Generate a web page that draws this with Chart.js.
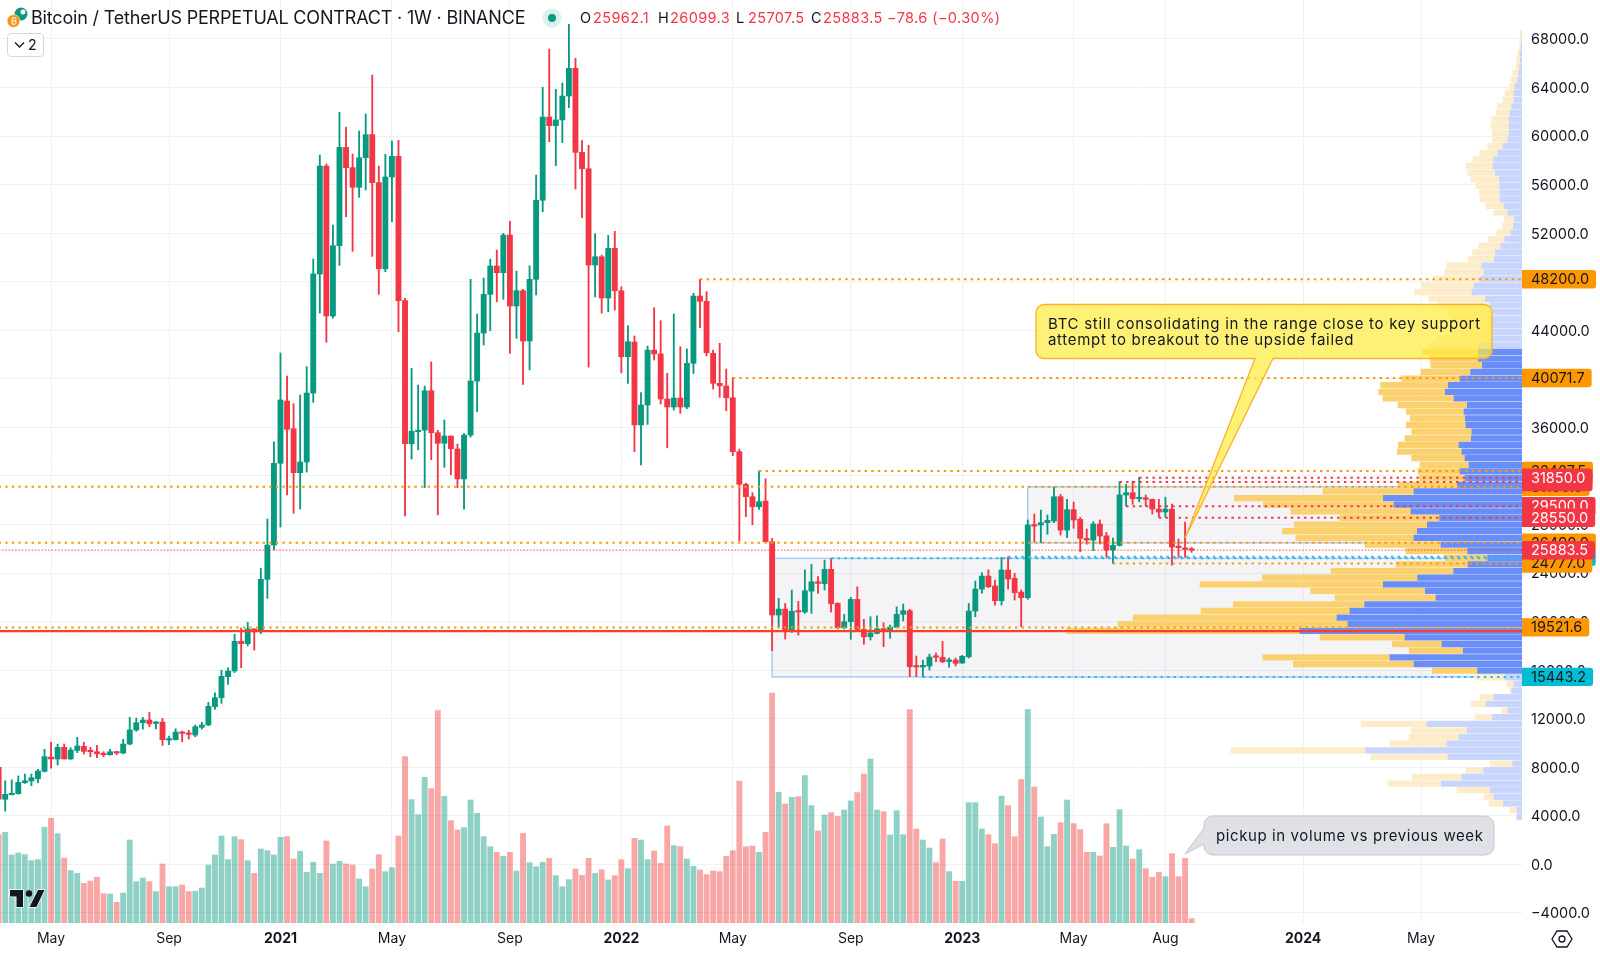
<!DOCTYPE html>
<html>
<head>
<meta charset="utf-8">
<title>BTCUSDT.P 1W</title>
<script src="https://cdn.jsdelivr.net/npm/chart.js@4"></script>
<style>
  html, body { margin: 0; padding: 0; background: #fff; overflow: hidden; }
  #wrap { position: relative; width: 1600px; height: 953px; font-family: Inter, "Noto Sans", sans-serif; color: #131722; }
  #chart { position: absolute; left: 0; top: 0; }
  .t { position: absolute; white-space: nowrap; line-height: 20px; }
  #title { left: 31px; top: 8px; font-size: 18px; letter-spacing: -0.18px; }
  .ohlc { top: 8px; font-size: 14.5px; letter-spacing: 0.4px; }
  .red { color: #f23645; }
  #btn { position: absolute; left: 7px; top: 33px; width: 35px; height: 22px; border: 1px solid #d6d8de; border-radius: 4px; background: #fff; }
  #btn span { position: absolute; left: 20px; top: 1px; font-size: 14px; line-height: 20px; }
  svg { position: absolute; }
</style>
</head>
<body>
<div id="wrap">
  <canvas id="chart" width="1600" height="953"></canvas>

  <svg style="left:6px;top:6px" width="24" height="24" viewBox="0 0 24 24">
    <circle cx="15" cy="8" r="6.5" fill="#089981"/>
    <circle cx="17" cy="6" r="2.5" fill="#fff"/>
    <circle cx="7.5" cy="15" r="6.5" fill="#f7931a" stroke="#fff" stroke-width="0.6"/>
    <path d="M6.2 11.8v6.4M6.2 11.8h2.2a1.5 1.5 0 0 1 0 3.2H6.2m2.4 0a1.6 1.6 0 0 1 0 3.2H6.2" fill="none" stroke="#fff" stroke-width="1"/>
  </svg>
  <div class="t" id="title">Bitcoin / TetherUS PERPETUAL CONTRACT · 1W · BINANCE</div>
  <svg style="left:542px;top:8px" width="20" height="20"><circle cx="10" cy="10" r="9.5" fill="#daf0ec"/><circle cx="10" cy="10" r="4" fill="#089981"/></svg>
  <div class="t ohlc" style="left:580px">O</div><div class="t ohlc red" style="left:593px">25962.1</div>
  <div class="t ohlc" style="left:658px">H</div><div class="t ohlc red" style="left:670px">26099.3</div>
  <div class="t ohlc" style="left:736px">L</div><div class="t ohlc red" style="left:748px">25707.5</div>
  <div class="t ohlc" style="left:811px">C</div><div class="t ohlc red" style="left:823px">25883.5</div>
  <div class="t ohlc red" style="left:887px">−78.6 (−0.30%)</div>

  <div id="btn">
    <svg style="left:6px;top:7px" width="11" height="8" viewBox="0 0 11 8"><path d="M1 1.5l4.5 4.5L10 1.5" fill="none" stroke="#131722" stroke-width="1.3"/></svg>
    <span>2</span>
  </div>

  <svg style="left:8px;top:888px" width="38" height="22" viewBox="0 0 38 22">
    <path d="M2 2h13v17h-6.5v-10.500H2z M30 2h6.500l-8 17h-7z" fill="#131722" stroke="#fff" stroke-width="1.4" paint-order="stroke"/>
    <circle cx="21" cy="5.500" r="3.200" fill="#131722"/>
  </svg>

  <svg style="left:1550px;top:928px" width="24" height="22" viewBox="0 0 24 22">
    <path d="M7 3h10l5 8-5 8H7l-5-8z" fill="none" stroke="#131722" stroke-width="1.300"/>
    <circle cx="12" cy="11" r="3" fill="none" stroke="#131722" stroke-width="1.300"/>
  </svg>
</div>

<script>
// first candle is 43 weeks before the first week of 2021, weeks are counted from there
const firstWeek = -43;

const opens = [
  7990,5360,5730,5820,6720,6860,7050,7660,8840,8680,
  9640,8680,9390,9720,9390,9280,9110,9030,9280,9170,
  9910,11070,11670,11890,11610,11720,10240,10270,10900,10790,
  10650,11290,11480,13000,13730,15460,15930,18380,18180,19390,
  19160,23480,26308,
  33040,38170,35890,32270,33150,38830,48640,57530,45180,50970,
  59070,57400,55780,58220,60120,56160,49070,56630,58330,46440,
  34650,35640,35770,39020,35560,34690,35290,34220,31750,35370,
  39820,43770,46960,49300,48740,51850,46000,47260,43120,48200,
  54710,61570,60860,61330,63300,65580,58660,57310,49380,50060,
  46660,50750,47260,41820,43030,36200,37840,42370,42050,38340,
  37680,38420,37680,41280,46820,46390,42100,39630,39410,38440,
  34000,31310,30290,29460,29930,26580,20540,21030,19250,20870,
  20790,22510,23280,23120,24310,21500,19490,19990,21830,19360,
  18750,19030,19410,19280,19530,20600,20900,16300,16260,16340,
  17140,17060,16720,16830,16590,17100,20870,22680,23750,22930,
  21720,24250,23560,22430,21970,27980,27960,28150,28280,30290,
  27540,29220,28430,26860,26720,28040,27070,25900,26280,30430,
  30620,30120,30200,30070,29270,29030,29270,26170,26060,25962.1
];
const highs = [
  8100,6890,6950,7280,7440,7440,7830,9480,10080,9910,
  9910,9610,10460,10050,9640,9800,9280,9480,9300,10300,
  12110,12050,12110,12520,11760,12030,10570,11170,10980,11040,
  11480,11700,13350,14140,16000,16200,18960,19470,19940,19420,
  24390,28450,34820,
  42130,40230,37950,38670,41000,49870,58440,57700,52670,61960,
  60750,58520,60420,61820,65030,57530,58500,59600,59650,46630,
  40870,39490,39410,41390,35760,36610,35290,34630,35500,48200,
  45340,48310,49850,50610,51990,52980,48880,47380,49320,56790,
  64020,67170,63850,64370,69210,66410,59620,59240,51960,50200,
  51820,52150,47590,44380,43530,38860,42700,45860,44790,40450,
  45340,42650,42460,47050,48200,47180,42370,42930,40810,40090,
  34220,31400,30620,32430,31770,26860,21920,21500,22600,21670,
  24270,24720,23700,25070,25210,21550,20600,22000,22870,20190,
  20400,20480,19900,19720,21220,21450,21010,17160,16830,17330,
  17410,18370,17000,17000,17220,21500,23340,24030,24270,23420,
  25290,25340,23980,22600,28370,28860,29190,28780,31090,30480,
  30070,29850,28590,27630,28230,28370,27350,26880,31520,31310,
  31580,31890,30430,30100,30070,30240,29690,26800,28200,26099.3
];
const lows = [
  5250,4390,5730,5780,6670,6480,6720,7610,7930,8180,
  8680,8650,9200,9090,8870,8780,8870,9000,9030,9110,
  9850,10960,11150,11340,11150,9800,9850,10240,10100,10320,
  10510,11150,11430,12770,13270,14830,15800,16200,18000,17650,
  19000,21915,25900,
  27790,30430,28920,29270,32320,38060,45420,43010,45000,49350,
  53360,50500,54950,55560,50090,46960,48830,52950,43880,28700,
  33390,34160,31030,33340,28800,32710,32100,31030,29270,35200,
  37290,42790,43960,46350,46550,42100,43340,39550,40730,46910,
  53770,59540,57560,59460,62340,55640,53270,40970,46740,45420,
  45530,45670,40500,39630,34000,32900,36250,41550,37930,34320,
  37430,37160,37540,40450,44210,41880,39160,38480,37370,33670,
  26640,28640,27980,29250,26580,17600,19580,18560,19110,18890,
  20680,20680,22330,22600,20790,19400,19400,18540,19300,18130,
  18480,18990,17930,18620,19500,20050,15460,15460,15460,16010,
  16690,16610,16230,16340,16550,17000,20400,22330,22800,21360,
  21360,22680,21780,19580,21830,26580,26500,27190,28150,27130,
  26910,27680,25760,26370,25840,26390,25300,24800,26220,29520,
  29660,29870,29520,28860,28590,28590,24640,25300,25300,25707.5
];
const closes = [
  5360,5770,5850,6760,6890,7140,7690,8870,8680,9640,
  8680,9420,9750,9310,9280,9110,9030,9280,9170,9910,
  11070,11670,11890,11580,11720,10270,10320,10900,10790,10710,
  11340,11480,13020,13730,15490,15930,18380,18180,19390,19160,
  23480,26308,33040,
  38260,35840,32270,33150,38830,48640,57530,45180,50970,59070,
  57400,55780,58220,60120,56160,49070,56630,58330,46440,34650,
  35680,35770,39020,35560,34690,35290,34240,31750,35370,39820,
  43770,46960,49300,48740,51850,46000,47260,43120,48200,54710,
  61570,60860,61330,63300,65580,58660,57310,49380,50060,46660,
  50750,47260,41820,43060,36200,37840,42370,42050,38340,37680,
  38420,37680,41280,46820,46390,42150,39630,39430,38440,34000,
  31310,30290,29460,29880,26580,20540,21030,19250,20850,20790,
  22540,23280,23150,24310,21470,19490,19990,21830,19360,18750,
  19060,19410,19300,19550,20600,20900,16280,16260,16400,17080,
  17060,16690,16830,16560,17140,20870,22680,23750,22870,21720,
  24250,23510,22380,21970,27960,27870,28150,28340,30290,27540,
  29220,28370,26860,26720,28040,27050,25900,26280,30430,30620,
  30120,30200,30070,29270,29030,29270,26140,26090,25950,25883.5
];
// no scale on the picture for volume, these are relative heights
const volumes = [
  265,272,204,210,205,187,190,287,314,268,195,157,149,119,126,137,88,87,62,90,
  249,124,135,124,94,177,109,109,114,94,95,105,174,204,261,190,259,250,187,149,
  222,217,204,257,259,192,215,152,182,149,246,177,185,177,174,132,109,162,205,154,
  166,261,499,370,325,437,403,637,380,307,279,286,369,329,259,229,212,200,212,156,
  269,181,169,182,194,142,109,130,162,143,194,149,
  160,129,142,190,163,254,249,190,216,179,291,232,229,192,170,159,145,156,154,200,
  217,426,229,231,212,272,690,392,357,377,379,442,352,276,324,331,320,339,366,391,
  447,492,339,334,264,337,265,640,282,249,225,181,252,154,125,125,361,361,282,265,
  238,381,352,259,430,641,408,318,229,266,301,369,298,280,212,212,201,298,227,340,
  231,192,220,163,137,152,139,208,139,194,13
];

// volume profile, rows from the top down, relative lengths
const profileBuy = [
  0,1,3,6,5,7,10,13,21,24,24,31,36,39,39,39,43,57,72,85,
  88,80,68,67,66,66,54,43,23,26,33,51,63,80,83,121,114,126,144,150,
  110,96,88,94,91,88,96,131,131,131,119,154,186,221,230,204,164,174,170,168,
  150,152,189,180,171,159,186,171,194,324,416,384,333,247,284,314,324,243,163,103,
  162,205,313,416,290,258,472,516,555,522,666,351,240,176,396,324,133,51,25,31,
  85,107,42,89,285,164,189,225,469,222,28,115,180,242,96,84,56,15,15
];
const profileSell = [
  5,5,5,7,10,11,18,20,17,27,33,43,41,52,54,50,45,46,55,62,
  79,83,85,71,62,60,54,41,30,33,43,51,66,68,79,105,117,140,157,172,
  169,154,131,117,100,123,158,150,165,145,155,149,175,203,200,213,208,173,165,179,
  181,199,182,194,160,147,126,137,177,273,447,392,361,299,399,404,355,228,185,128,
  216,368,466,550,344,303,394,447,612,690,700,255,149,162,382,362,136,90,21,5,
  41,46,18,51,197,168,150,171,404,232,67,53,150,160,99,30,43,20,0
];
// rows sit on a fixed price grid
const profileTopPrice = 68470;
const profileRowStep = 547;
const valueAreaHigh = 42300;
const valueAreaLow = 15700;

const orangeLevels = [48200, 40071.7, 32407.5, 31100, 26490, 24777, 19521.6];
const orangeStarts = [64, 69, 73, -43, -43, 127, -43];
const redLevels = [31850, 31500, 29500, 28550];
const redStarts = [131, 128, 129, 134];
const cyanLevels = [25210, 25340, 15443.2];
const cyanStarts = [84, 111, 98];
const lastPrice = 25883.5;
const supportLine = 19220;

const tickWeeks = [-35, -17, 0, 17, 35, 52, 69, 87, 104, 121, 135, 156, 174];
const tickNames = ['May', 'Sep', '2021', 'May', 'Sep', '2022', 'May', 'Sep', '2023', 'May', 'Aug', '2024', 'May'];
const priceTicks = [-4000, 0, 4000, 8000, 12000, 16000, 20000, 24000, 28000, 32000, 36000, 40000, 44000, 48000, 52000, 56000, 60000, 64000, 68000];

const GREEN = '#089981';
const RED = '#f23645';
const ORANGE = '#ff9800';
const CYAN = '#00bcd4';
const FONT = 'Inter, "Noto Sans", sans-serif';

const weeks = opens.map((_, i) => firstWeek + i);
const candleColors = opens.map((o, i) => closes[i] >= o ? GREEN : RED);
const volumeColors = opens.map((o, i) => closes[i] >= o ? 'rgba(8,153,129,0.45)' : 'rgba(240,57,57,0.45)');
const rowPrices = profileBuy.map((_, i) => profileTopPrice - i * profileRowStep);
const inValueArea = p => p <= valueAreaHigh && p >= valueAreaLow;

function levelLine(price, start, color, dash, width) {
  return {
    type: 'line',
    data: [{ x: start, y: price }, { x: 190, y: price }],
    borderColor: color,
    borderWidth: width,
    borderDash: dash,
    pointRadius: 0,
    order: 10
  };
}

const DOTS = [2.4, 4.2];
const datasets = [
  {
    data: weeks.map((w, i) => ({ x: w, y: volumes[i] })),
    yAxisID: 'yVol',
    backgroundColor: volumeColors,
    barThickness: 5.2,
    grouped: false,
    order: 100
  },
  {
    indexAxis: 'y',
    xAxisID: 'xProfile',
    data: rowPrices.map((p, i) => ({ x: [0, profileBuy[i]], y: p })),
    backgroundColor: rowPrices.map(p => inValueArea(p) ? '#6a8ef8' : '#c8d5fd'),
    barThickness: 5.6,
    grouped: false,
    order: 90
  },
  {
    indexAxis: 'y',
    xAxisID: 'xProfile',
    data: rowPrices.map((p, i) => ({ x: [profileBuy[i], profileBuy[i] + profileSell[i]], y: p })),
    backgroundColor: rowPrices.map(p => inValueArea(p) ? '#fbd16f' : '#fdecc9'),
    barThickness: 5.6,
    grouped: false,
    order: 90
  },
  {
    data: weeks.map((w, i) => ({ x: w, y: [lows[i], highs[i]] })),
    backgroundColor: candleColors,
    barThickness: 1.2,
    grouped: false,
    order: 50
  },
  {
    data: weeks.map((w, i) => ({ x: w, y: [opens[i], closes[i]] })),
    backgroundColor: candleColors,
    barThickness: 5.2,
    minBarLength: 1.5,
    grouped: false,
    order: 40
  },
  levelLine(lastPrice, -43, 'rgba(242,54,69,0.7)', [1.6, 1.7], 1.2),
  ...orangeLevels.map((p, i) => levelLine(p, orangeStarts[i], ORANGE, DOTS, 2)),
  ...redLevels.map((p, i) => levelLine(p, redStarts[i], RED, DOTS, 2)),
  ...cyanLevels.map((p, i) => levelLine(p, cyanStarts[i], '#35b5e8', DOTS, 2)),
  levelLine(supportLine, -43, '#f4402c', [], 2.2)
];

function priceLabel(ctx, chart, price, fill, textColor) {
  const y = chart.scales.y.getPixelForValue(price);
  const text = price.toFixed(1);
  ctx.font = '14.5px ' + FONT;
  ctx.letterSpacing = '0px';
  const w = ctx.measureText(text).width;
  ctx.fillStyle = fill;
  ctx.beginPath();
  ctx.roundRect(chart.chartArea.right, y - 9.2, w + 16, 18.4, [0, 3, 3, 0]);
  ctx.fill();
  ctx.fillStyle = textColor;
  ctx.textAlign = 'left';
  ctx.textBaseline = 'middle';
  ctx.fillText(text, chart.chartArea.right + 9, y + 0.5);
}

function rangeBox(ctx, chart, week, top, bottom) {
  const x = chart.scales.x.getPixelForValue(week);
  const yTop = chart.scales.y.getPixelForValue(top);
  const yBottom = chart.scales.y.getPixelForValue(bottom);
  const right = chart.chartArea.right;
  ctx.fillStyle = 'rgba(130,133,170,0.09)';
  ctx.fillRect(x, yTop, right - x, yBottom - yTop);
  ctx.strokeStyle = '#a9ccf9';
  ctx.lineWidth = 1.5;
  ctx.strokeRect(x, yTop, right - x + 4, yBottom - yTop);
}

const chrome = {
  id: 'chrome',
  beforeDatasetsDraw(chart) {
    const ctx = chart.ctx;
    ctx.save();
    ctx.beginPath();
    ctx.rect(chart.chartArea.left, chart.chartArea.top, chart.chartArea.width, chart.chartArea.height);
    ctx.clip();
    rangeBox(ctx, chart, 75, 25210, 15443.2);
    rangeBox(ctx, chart, 114, 31100, 26490);
    ctx.restore();
  },
  afterDraw(chart) {
    const ctx = chart.ctx;
    const { x, y, yVol } = chart.scales;
    ctx.save();

    // price tags, the red ones sit on top
    cyanLevels.forEach(p => priceLabel(ctx, chart, p, CYAN, '#131722'));
    orangeLevels.forEach(p => priceLabel(ctx, chart, p, ORANGE, '#131722'));
    priceLabel(ctx, chart, 31500, RED, RED);
    priceLabel(ctx, chart, 31850, RED, '#fff');
    priceLabel(ctx, chart, 29500, RED, '#fff');
    priceLabel(ctx, chart, 28550, RED, '#fff');
    priceLabel(ctx, chart, lastPrice, RED, '#fff');

    // yellow balloon
    const tipX = x.getPixelForValue(138);
    const tipY = y.getPixelForValue(26880);
    ctx.beginPath();
    ctx.moveTo(1044, 304.5);
    ctx.lineTo(1484, 304.5);
    ctx.arcTo(1492, 304.5, 1492, 312, 8);
    ctx.lineTo(1492, 351);
    ctx.arcTo(1492, 358.5, 1484, 358.5, 8);
    ctx.lineTo(1273, 358.5);
    ctx.lineTo(tipX, tipY);
    ctx.lineTo(1255, 358.5);
    ctx.lineTo(1044, 358.5);
    ctx.arcTo(1036, 358.5, 1036, 351, 8);
    ctx.lineTo(1036, 312);
    ctx.arcTo(1036, 304.5, 1044, 304.5, 8);
    ctx.closePath();
    ctx.fillStyle = 'rgba(255,235,59,0.7)';
    ctx.fill();
    ctx.strokeStyle = '#fbb02d';
    ctx.lineWidth = 1.3;
    ctx.stroke();
    ctx.fillStyle = '#131722';
    ctx.font = '15px ' + FONT;
    ctx.letterSpacing = '0.7px';
    ctx.textAlign = 'left';
    ctx.textBaseline = 'middle';
    ctx.fillText('BTC still consolidating in the range close to key support', 1048, 324);
    ctx.fillText('attempt to breakout to the upside failed', 1048, 340);

    // grey balloon
    const gx = x.getPixelForValue(138);
    const gy = yVol.getPixelForValue(207);
    ctx.beginPath();
    ctx.moveTo(1214, 816);
    ctx.lineTo(1485, 816);
    ctx.arcTo(1494, 816, 1494, 825, 9);
    ctx.lineTo(1494, 846);
    ctx.arcTo(1494, 855, 1485, 855, 9);
    ctx.lineTo(1214, 855);
    ctx.arcTo(1204, 855, 1204, 846, 9);
    ctx.lineTo(1204, 844);
    ctx.lineTo(gx, gy);
    ctx.lineTo(1204, 828);
    ctx.arcTo(1204, 816, 1214, 816, 9);
    ctx.closePath();
    ctx.fillStyle = '#dfe1e6';
    ctx.fill();
    ctx.strokeStyle = '#c3c6ce';
    ctx.lineWidth = 1;
    ctx.stroke();
    ctx.fillStyle = '#131722';
    ctx.letterSpacing = '0.6px';
    ctx.fillText('pickup in volume vs previous week', 1216, 836);

    ctx.restore();
  }
};

new Chart(document.getElementById('chart').getContext('2d'), {
  type: 'bar',
  data: { datasets },
  plugins: [chrome],
  options: {
    responsive: false,
    animation: false,
    events: [],
    layout: { padding: 0 },
    plugins: { legend: { display: false }, tooltip: { enabled: false } },
    scales: {
      x: {
        type: 'linear',
        offset: false,
        min: -42.79,
        max: 189.4,
        afterBuildTicks: s => { s.ticks = tickWeeks.map(value => ({ value })); },
        afterFit: s => { s.height = 30; s.paddingLeft = 0; s.paddingRight = 0; },
        grid: { color: '#f0f1f4', drawTicks: false, offset: false },
        border: { display: false },
        ticks: {
          autoSkip: false,
          maxRotation: 0,
          padding: 7,
          color: '#131722',
          font: c => ({ family: FONT, size: 14, weight: c.tick && c.tick.value % 52 === 0 ? '700' : '400' }),
          callback: v => tickNames[tickWeeks.indexOf(v)]
        }
      },
      xProfile: { axis: 'x', type: 'linear', display: false, offset: false, reverse: true, min: 0, max: 4566 },
      y: {
        position: 'right',
        offset: false,
        min: -4832,
        max: 71212,
        afterBuildTicks: s => { s.ticks = priceTicks.map(value => ({ value })); },
        afterFit: s => { s.width = 78; s.paddingTop = 0; s.paddingBottom = 0; },
        grid: { color: '#f0f1f4', drawTicks: false, offset: false },
        border: { display: false },
        ticks: {
          padding: 9,
          labelOffset: 1,
          color: '#131722',
          font: { family: FONT, size: 14.5 },
          callback: v => v.toFixed(1).replace('-', '−')
        }
      },
      yVol: { type: 'linear', display: false, offset: false, min: 0, max: 2769 }
    }
  }
});
</script>
</body>
</html>
